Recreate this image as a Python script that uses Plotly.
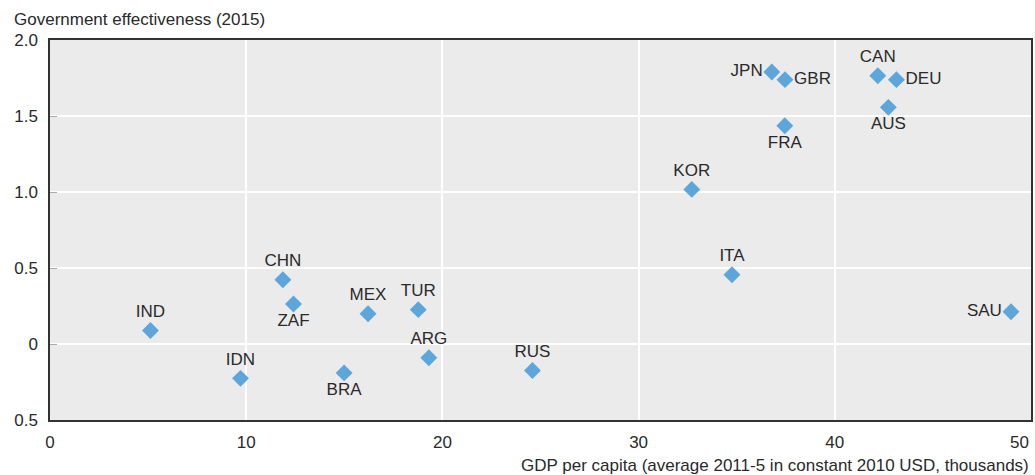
import plotly.graph_objects as go

countries = ["IND", "IDN", "CHN", "ZAF", "BRA", "MEX", "TUR", "ARG", "RUS",
             "KOR", "ITA", "SAU", "JPN", "GBR", "FRA", "CAN", "DEU", "AUS"]
gdp = [5.12, 9.71, 11.87, 12.41, 14.99, 16.21, 18.77, 19.31, 24.59,
       32.71, 34.76, 48.98, 36.79, 37.46, 37.45, 42.19, 43.14, 42.73]
gov_eff = [0.089, -0.226, 0.423, 0.263, -0.19, 0.199, 0.226, -0.09, -0.174,
           1.017, 0.456, 0.212, 1.789, 1.739, 1.436, 1.765, 1.739, 1.557]
label_pos = ["top center", "top center", "top center", "bottom center", "bottom center",
             "top center", "top center", "top center", "top center",
             "top center", "top center", "middle left", "middle left", "middle right",
             "bottom center", "top center", "middle right", "bottom center"]

y_ticks = [-0.5, 0, 0.5, 1.0, 1.5, 2.0]
y_ticktext = ["0.5", "0", "0.5", "1.0", "1.5", "2.0"]
x_ticks = [0, 10, 20, 30, 40, 50]
x_ticktext = ["0", "10", "20", "30", "40", ""]
x_last_label = "50"

FONT = "Liberation Sans, Arial, sans-serif"
TXT = "#2a2a2a"

fig = go.Figure()
fig.add_trace(go.Scatter(
    x=gdp, y=gov_eff, mode="markers+text",
    text=countries, textposition=label_pos,
    textfont=dict(family=FONT, size=17, color=TXT),
    marker=dict(symbol="diamond", size=13, color="#5DA6DC", line=dict(width=0)),
    cliponaxis=False, hoverinfo="skip",
))

fig.update_layout(
    width=1035, height=475,
    margin=dict(l=50, r=2, t=40, b=55),
    paper_bgcolor="white", plot_bgcolor="#ebebeb",
    showlegend=False,
    font=dict(family=FONT, size=17, color=TXT),
    xaxis=dict(range=[0, 50], tickvals=x_ticks, ticktext=x_ticktext, showgrid=True,
               gridcolor="white", gridwidth=1.5, zeroline=False, showline=True,
               linecolor="#333333", linewidth=1.5, mirror=True, ticks="",
               tickfont=dict(size=17), ticklabelstandoff=6),
    yaxis=dict(range=[-0.5, 2.0], tickvals=y_ticks, ticktext=y_ticktext,
               showgrid=True, gridcolor="white", gridwidth=1.5, zeroline=False,
               showline=True, linecolor="#333333", linewidth=1.5, mirror=True,
               ticks="inside", ticklen=7, tickcolor="#aaaaaa", tickfont=dict(size=17),
               ticklabelstandoff=7),
    annotations=[
        dict(text="Government effectiveness (2015)", xref="paper", yref="paper",
             x=-0.0386, y=1.053, xanchor="left", yanchor="middle", showarrow=False,
             font=dict(family=FONT, size=17, color=TXT)),
        dict(text="GDP per capita (average 2011-5 in constant 2010 USD, thousands)",
             xref="paper", yref="paper", x=1.0, y=-0.121, xanchor="right",
             yanchor="middle", showarrow=False,
             font=dict(family=FONT, size=17, color=TXT)),
        dict(text=x_last_label, xref="x", yref="paper", x=x_ticks[-1], y=-0.058,
             xanchor="right", yanchor="middle", showarrow=False,
             font=dict(family=FONT, size=17, color=TXT)),
    ],
)

fig.write_html(
    "out.html",
    config={"displayModeBar": False},
    post_script="document.body.style.margin='0';document.body.style.overflow='hidden';",
)
